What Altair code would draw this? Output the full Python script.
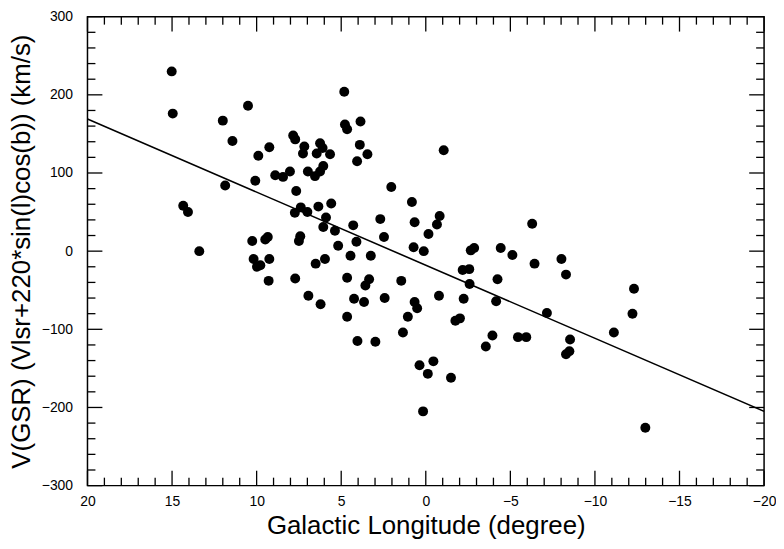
import altair as alt
import pandas as pd

# Galactic longitude (degree) and V(GSR) (km/s)
lon = [15.02, 14.96, 10.51, 12.00, 11.43, 7.84, 7.72, 9.25, 9.90, 7.18,
       7.26, 8.03, 8.90, 8.44, 10.08, 11.86, 7.66, 7.39, 7.74, 7.00,
       14.34, 14.06, 13.39, 10.26, 9.49, 9.34, 7.50, 7.42, 10.18, 9.25,
       9.98, 9.78, 9.29, 7.72, 6.94, 6.51, 6.22, 6.25, 6.45, 6.10,
       5.66, 6.97, 6.55, 6.06, 6.25, 4.82, 4.78, 4.65, 3.86, 3.90,
       3.45, 4.06, -1.06, 2.04, 0.82, 6.35, 5.59, 5.90, 6.06, 5.37,
       4.29, 2.69, 2.47, 0.66, -0.82, -0.66, -0.16, 4.10, 5.18, 4.45,
       3.25, 5.96, 0.72, 0.12, -2.66, -2.86, -4.43, -5.12, -2.18, -2.57,
       -2.59, -4.24, -4.16, -2.24, -0.78, 1.45, 4.65, 3.35, 3.57, 4.24,
       3.65, 2.43, 0.66, 0.51, 1.06, 4.65, -1.75, -2.02, -3.94, -3.55,
       -5.45, -5.94, 1.35, 4.04, 2.98, 0.37, -0.12, -0.45, -1.49, 0.16,
       -6.29, -6.43, -8.02, -8.29, -12.31, -12.22, -7.16, -8.53, -8.29, -8.49,
       -11.12, -12.98]
vel = [230, 176, 186, 167, 141, 148, 143, 133, 122, 134,
       125, 102, 97, 95, 90, 84, 77, 56, 49, 50,
       58, 50, 0, 13, 15, 18, 13, 19, -10, -10,
       -20, -18, -38, -35, -57, -16, -68, 138, 125, 132,
       124, 102, 96, 109, 102, 204, 162, 156, 166, 136,
       124, 115, 129, 82, 63, 57, 61, 43, 31, 26,
       33, 41, 18, 37, 45, 34, 22, 12, 7, -6,
       -6, -10, 5, 0, 1, 4, 4, -5, -24, -23,
       -42, -36, -64, -61, -57, -38, -34, -36, -44, -61,
       -65, -60, -65, -73, -84, -84, -89, -86, -108, -122,
       -110, -110, -104, -115, -116, -146, -157, -141, -162, -205,
       35, -16, -10, -30, -48, -80, -79, -113, -132, -128,
       -104, -226]

# least-squares line as drawn in the figure (end points at the frame)
fit_lon = [20, -20]
fit_vel = [169, -205]

x_ticks = [20, 15, 10, 5, 0, -5, -10, -15, -20]
y_ticks = [-300, -200, -100, 0, 100, 200, 300]
x_minor = [v for v in range(19, -20, -1) if v % 5 != 0]
y_minor = [v for v in range(-280, 300, 20) if v % 100 != 0]

X0, X1 = 20, -20
Y0, Y1 = -300, 300
W, H = 681, 472
FONT = "Liberation Sans"

xs = alt.Scale(domain=[X0, X1], nice=False, zero=False)
ys = alt.Scale(domain=[Y0, Y1], nice=False, zero=False)

x_axis = alt.Axis(values=x_ticks, title="Galactic Longitude (degree)", ticks=False,
                  domain=False, grid=False, labelFontSize=14, labelPadding=9,
                  titleFontSize=26, titlePadding=4, labelFont=FONT, titleFont=FONT,
                  titleFontWeight="normal", labelColor="black", titleColor="black",
                  labelFlush=False, labelOverlap=False, format="d")
y_axis = alt.Axis(values=y_ticks, title="V(GSR) (Vlsr+220*sin(l)cos(b)) (km/s)",
                  ticks=False, domain=False, grid=False, labelFontSize=14,
                  labelPadding=15, titleFontSize=26, titlePadding=7, labelFont=FONT,
                  titleFont=FONT, titleFontWeight="normal", labelColor="black",
                  titleColor="black", labelFlush=False, labelOverlap=False, format="d")

pts = pd.DataFrame({"lon": lon, "vel": vel})
fit = pd.DataFrame({"lon": fit_lon, "vel": fit_vel})

points = alt.Chart(pts).mark_circle(size=100, color="black", opacity=1).encode(
    x=alt.X("lon:Q", scale=xs, axis=x_axis),
    y=alt.Y("vel:Q", scale=ys, axis=y_axis),
)
line = alt.Chart(fit).mark_line(color="black", strokeWidth=1.6).encode(
    x=alt.X("lon:Q", scale=xs, axis=x_axis),
    y=alt.Y("vel:Q", scale=ys, axis=y_axis),
)

PX_Y = (Y1 - Y0) / H   # data units per pixel, vertical
PX_X = (X0 - X1) / W   # data units per pixel, horizontal


def xticks(vals, at, inward, length):
    return alt.Chart(pd.DataFrame({"lon": vals})).transform_calculate(
        t0=f"{at}", t1=f"{at} + ({inward}) * {length} * {PX_Y}"
    ).mark_rule(color="black", strokeWidth=1.3).encode(
        x=alt.X("lon:Q", scale=xs, axis=x_axis),
        y=alt.Y("t0:Q", scale=ys, axis=y_axis),
        y2="t1:Q",
    )


def yticks(vals, at, inward, length):
    return alt.Chart(pd.DataFrame({"vel": vals})).transform_calculate(
        t0=f"{at}", t1=f"{at} + ({inward}) * {length} * {PX_X}"
    ).mark_rule(color="black", strokeWidth=1.3).encode(
        y=alt.Y("vel:Q", scale=ys, axis=y_axis),
        x=alt.X("t0:Q", scale=xs, axis=x_axis),
        x2="t1:Q",
    )


MAJ, MIN = 15, 8
tick_layers = [
    xticks(x_ticks, Y0, 1, MAJ), xticks(x_minor, Y0, 1, MIN),
    xticks(x_ticks, Y1, -1, MAJ), xticks(x_minor, Y1, -1, MIN),
    yticks(y_ticks, X0, -1, MAJ), yticks(y_minor, X0, -1, MIN),
    yticks(y_ticks, X1, 1, MAJ), yticks(y_minor, X1, 1, MIN),
]

chart = alt.layer(*tick_layers, line, points).properties(
    width=W, height=H,
    padding={"left": 80, "top": 7, "right": 12, "bottom": 54},
    autosize=alt.AutoSizeParams(type="none"),
    background="white",
).configure_view(stroke="black", strokeWidth=1.5)

chart.save("out.html", embed_options={"renderer": "svg", "actions": False})
